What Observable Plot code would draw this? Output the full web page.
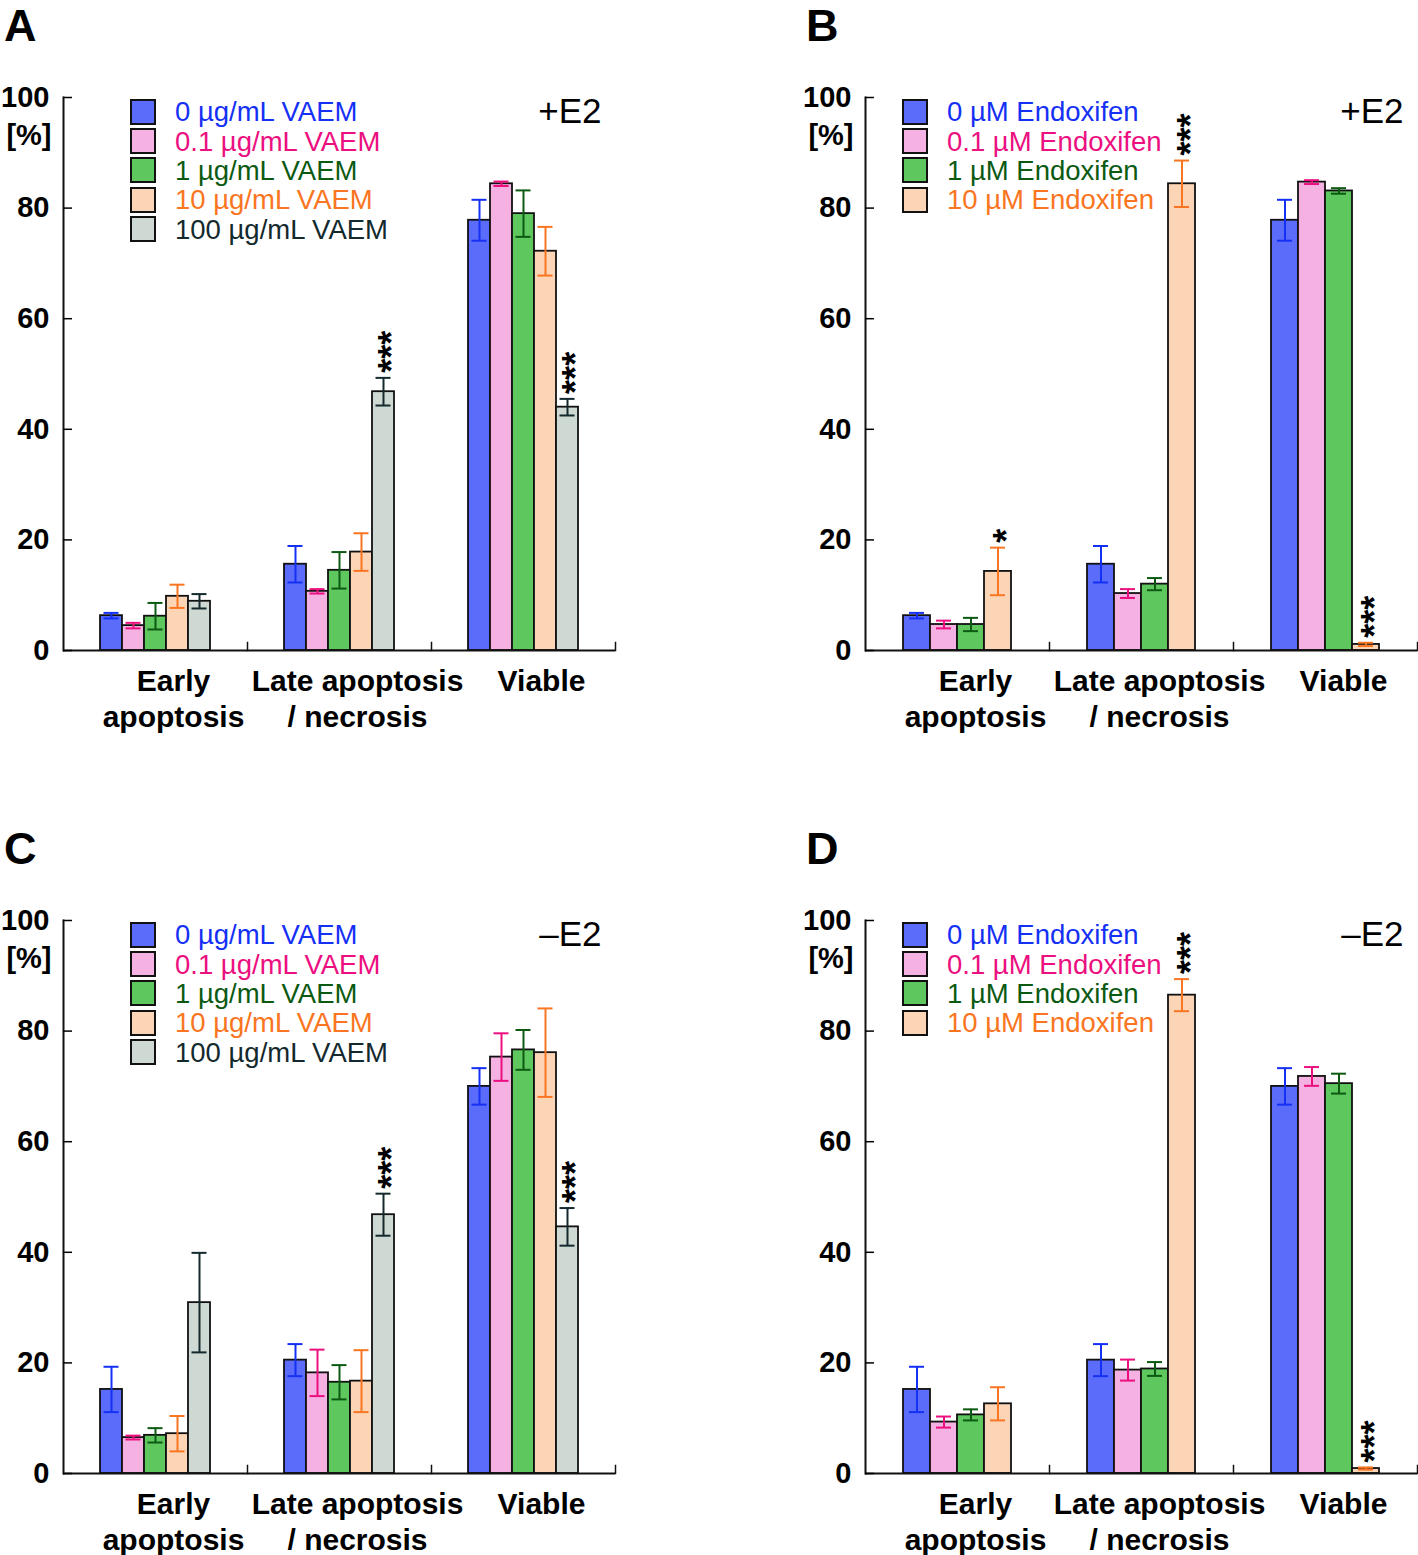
<!DOCTYPE html>
<html>
<head>
<meta charset="utf-8">
<script src="https://cdn.jsdelivr.net/npm/d3@7"></script>
<script src="https://cdn.jsdelivr.net/npm/@observablehq/plot@0.6"></script>
<style>
  html, body { margin: 0; padding: 0; background: #fff; }
  body { width: 1418px; height: 1555px; position: relative; overflow: hidden;
         font-family: "Liberation Sans", Arial, Helvetica, sans-serif; }
  .panel { position: absolute; width: 615px; height: 740px; }
  .panel svg { position: absolute; left: 0; top: 0; overflow: visible; }
  .letter { position: absolute; left: 4px; top: 0px; font-size: 45px; line-height: normal; font-weight: bold; color: #000; }
  .legend { position: absolute; top: 97px; }
  .legend .row { display: flex; align-items: center; height: 29.4px; }
  .legend .sw { width: 26px; height: 26px; box-sizing: border-box; border: 2px solid #111; margin-right: 19px; flex: none; }
  .legend .lab { font-size: 27.5px; line-height: 29px; white-space: nowrap; }
</style>
</head>
<body>
<script>
// ---------- data ----------
const groups = ["Early apoptosis", "Late apoptosis / necrosis", "Viable"];
const groupLabels = ["Early\napoptosis", "Late apoptosis\n/ necrosis", "Viable"];
const yTicks = [0, 20, 40, 60, 80, 100];

const vaemSeries = ["0 µg/mL VAEM", "0.1 µg/mL VAEM", "1 µg/mL VAEM", "10 µg/mL VAEM", "100 µg/mL VAEM"];
const endoSeries = ["0 µM Endoxifen", "0.1 µM Endoxifen", "1 µM Endoxifen", "10 µM Endoxifen"];

const fills = ["#5b6cfa", "#f5b1e2", "#5ec85f", "#fcd5b6", "#cfd9d4"];
const inks  = ["#1530f5", "#ec0f7f", "#0c5a12", "#fa7521", "#13292d"];

// Panel A: VAEM, +E2  (rows = groups, columns = series)
const aMeans = [[6.3, 4.5, 6.2, 9.8, 8.9], [15.6, 10.7, 14.5, 17.8, 46.8], [77.8, 84.4, 79.0, 72.2, 44.0]];
const aErrs  = [[0.5, 0.5, 2.4, 2.1, 1.3], [3.3, 0.4, 3.3, 3.4, 2.5], [3.7, 0.4, 4.2, 4.4, 1.5]];
const aSigs  = [["", "", "", "", ""], ["", "", "", "", "***"], ["", "", "", "", "***"]];

// Panel B: Endoxifen, +E2
const bMeans = [[6.3, 4.7, 4.7, 14.3], [15.6, 10.3, 12.0, 84.4], [77.8, 84.7, 83.1, 1.1]];
const bErrs  = [[0.5, 0.7, 1.2, 4.3], [3.3, 0.8, 1.1, 4.2], [3.7, 0.35, 0.5, 0.3]];
const bSigs  = [["", "", "", "*"], ["", "", "", "***"], ["", "", "", "***"]];

// Panel C: VAEM, -E2
const cMeans = [[15.2, 6.5, 6.9, 7.2, 30.9], [20.5, 18.2, 16.5, 16.7, 46.8], [70.0, 75.3, 76.6, 76.1, 44.6]];
const cErrs  = [[4.1, 0.35, 1.3, 3.2, 9.0], [2.9, 4.2, 3.1, 5.6, 3.8], [3.3, 4.3, 3.6, 8.0, 3.4]];
const cSigs  = [["", "", "", "", ""], ["", "", "", "", "***"], ["", "", "", "", "***"]];

// Panel D: Endoxifen, -E2
const dMeans = [[15.2, 9.3, 10.6, 12.6], [20.5, 18.7, 18.9, 86.5], [70.0, 71.8, 70.5, 0.9]];
const dErrs  = [[4.1, 1.0, 1.0, 3.0], [2.9, 1.9, 1.25, 2.9], [3.3, 1.7, 1.8, 0.2]];
const dSigs  = [["", "", "", ""], ["", "", "", "***"], ["", "", "", "***"]];

const panels = [
  {letter: "A", left: 0,   top: 0,   series: vaemSeries, means: aMeans, errs: aErrs, sigs: aSigs, tag: "+E2", padOuter: 1.65, capInset: 3.5},
  {letter: "B", left: 802, top: 0,   series: endoSeries, means: bMeans, errs: bErrs, sigs: bSigs, tag: "+E2", padOuter: 1.29, capInset: 6},
  {letter: "C", left: 0,   top: 823, series: vaemSeries, means: cMeans, errs: cErrs, sigs: cSigs, tag: "\u2013E2", padOuter: 1.65, capInset: 3.5},
  {letter: "D", left: 802, top: 823, series: endoSeries, means: dMeans, errs: dErrs, sigs: dSigs, tag: "\u2013E2", padOuter: 1.29, capInset: 6}
];

const FONT = '"Liberation Sans", Arial, Helvetica, sans-serif';

function makePlot(cfg) {
  const {series, means, errs, sigs, tag, padOuter, capInset} = cfg;
  const rows = [];
  groups.forEach((g, gi) => series.forEach((s, si) => rows.push({
    group: g, series: s, mean: means[gi][si], err: errs[gi][si], sig: sigs[gi][si]
  })));

  const errMarks = series.flatMap((s, si) => {
    const sub = rows.filter(d => d.series === s);
    return [
      Plot.ruleX(sub, {fx: "group", x: "series", y1: d => d.mean - d.err, y2: d => d.mean + d.err, stroke: inks[si], strokeWidth: 2}),
      Plot.tickY(sub, {fx: "group", x: "series", y: d => d.mean + d.err, stroke: inks[si], strokeWidth: 2, inset: capInset}),
      Plot.tickY(sub, {fx: "group", x: "series", y: d => d.mean - d.err, stroke: inks[si], strokeWidth: 2, inset: capInset})
    ];
  });

  return Plot.plot({
    width: 615, height: 740,
    marginLeft: 62, marginRight: 0, marginTop: 97, marginBottom: 90,
    style: {fontFamily: FONT, background: "transparent", overflow: "visible", color: "#000"},
    fx: {domain: groups, padding: 0, label: null},
    x: {domain: series, paddingInner: 0, paddingOuter: padOuter, axis: null},
    y: {domain: [0, 100], label: null},
    color: {domain: series, range: fills.slice(0, series.length)},
    marks: [
      Plot.barY(rows, {fx: "group", x: "series", y: "mean", fill: "series", stroke: "#111", strokeWidth: 1.8}),
      ...errMarks,
      // significance stars, stacked vertically above the error bar
      Plot.text(rows.filter(d => d.sig), {
        fx: "group", x: "series", y: d => d.mean + d.err,
        text: "sig", rotate: -90, textAnchor: "start", lineAnchor: "middle",
        fontSize: 36, fontWeight: "bold", dx: 9, dy: -5, fill: "#000"
      }),
      Plot.ruleY([0], {stroke: "#111", strokeWidth: 2}),
      Plot.frame({anchor: "left", facetAnchor: "left", stroke: "#111", strokeWidth: 2}),
      Plot.frame({anchor: "right", insetTop: 545, stroke: "#111", strokeWidth: 1.5}),
      Plot.axisY({ticks: yTicks, tickSize: -9, tickPadding: 23, fontSize: 29, fontWeight: "bold", label: null, strokeWidth: 1.5}),
      Plot.axisFx({anchor: "bottom", tickSize: 0, tickPadding: 15, fontSize: 30, fontWeight: "bold",
                   lineHeight: 1.2, dx: 18, label: null, tickFormat: d => groupLabels[groups.indexOf(d)]}),
      Plot.text(["[%]"], {fx: () => groups[0], frameAnchor: "top-left", textAnchor: "end", lineAnchor: "top",
                          dx: -12, dy: 27, fontSize: 29, fontWeight: "bold", fill: "#000"}),
      Plot.text([tag], {fx: () => groups[2], frameAnchor: "top-right", textAnchor: "end", lineAnchor: "top",
                        dx: -14, dy: 1, fontSize: 35, fill: "#000"})
    ]
  });
}

for (const cfg of panels) {
  const div = document.createElement("div");
  div.className = "panel";
  div.style.left = cfg.left + "px";
  div.style.top = cfg.top + "px";
  document.body.appendChild(div);

  div.appendChild(makePlot(cfg));

  const letter = document.createElement("div");
  letter.className = "letter";
  letter.textContent = cfg.letter;
  div.appendChild(letter);

  const legend = document.createElement("div");
  legend.className = "legend";
  legend.style.left = (cfg.series.length === 5 ? 130 : 100) + "px";
  cfg.series.forEach((s, i) => {
    const row = document.createElement("div");
    row.className = "row";
    const sw = document.createElement("div");
    sw.className = "sw";
    sw.style.background = fills[i];
    const lab = document.createElement("div");
    lab.className = "lab";
    lab.style.color = inks[i];
    lab.textContent = s;
    row.appendChild(sw);
    row.appendChild(lab);
    legend.appendChild(row);
  });
  div.appendChild(legend);
}
</script>
</body>
</html>
